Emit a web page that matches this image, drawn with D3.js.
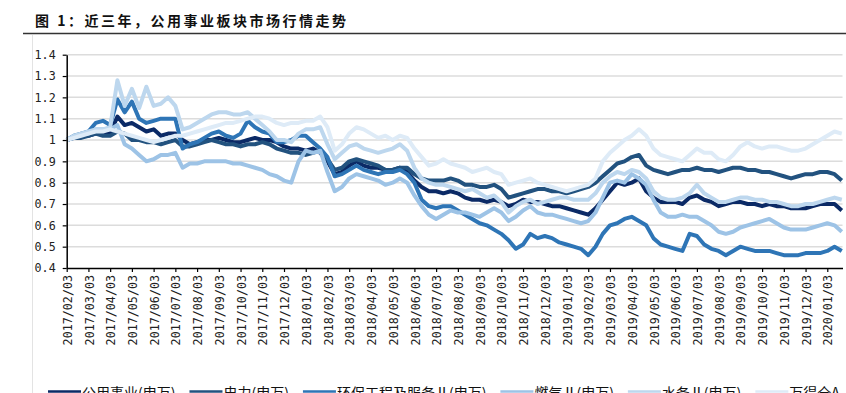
<!DOCTYPE html>
<html>
<head>
<meta charset="utf-8">
<script src="https://cdn.jsdelivr.net/npm/d3@7"></script>
<style>
  body { margin: 0; background: #fff; }
  svg { display: block; }
</style>
</head>
<body>
<script>
// 横轴刻度（每月一个）
var tickLabels = [
  "2017/02/03","2017/03/03","2017/04/03","2017/05/03","2017/06/03","2017/07/03",
  "2017/08/03","2017/09/03","2017/10/03","2017/11/03","2017/12/03","2018/01/03",
  "2018/02/03","2018/03/03","2018/04/03","2018/05/03","2018/06/03","2018/07/03",
  "2018/08/03","2018/09/03","2018/10/03","2018/11/03","2018/12/03","2019/01/03",
  "2019/02/03","2019/03/03","2019/04/03","2019/05/03","2019/06/03","2019/07/03",
  "2019/08/03","2019/09/03","2019/10/03","2019/11/03","2019/12/03","2020/01/03"
];
var yTicks = [0.4, 0.5, 0.6, 0.7, 0.8, 0.9, 1.0, 1.1, 1.2, 1.3, 1.4];
var yTickLabels = ["0.4","0.5","0.6","0.7","0.8","0.9","1","1.1","1.2","1.3","1.4"];
var seriesNames = ["公用事业(申万)", "电力(申万)", "环保工程及服务Ⅱ(申万)", "燃气Ⅱ(申万)", "水务Ⅱ(申万)", "万得全A"];

// 每 1/3 个月一个点，从 2017/02/03 开始
var gysy = [
  1.00,1.01,1.02,1.02,1.03,1.03,1.03,1.11,1.07,1.08,1.06,1.04,
  1.05,1.02,1.03,1.03,1.00,0.98,0.99,1.00,1.00,1.01,1.00,0.99,
  0.99,1.00,1.01,1.00,1.00,0.99,0.97,0.96,0.96,0.95,0.96,0.94,
  0.90,0.84,0.85,0.88,0.90,0.88,0.87,0.87,0.86,0.86,0.87,0.85,
  0.81,0.78,0.76,0.76,0.75,0.76,0.75,0.73,0.72,0.72,0.71,0.72,
  0.71,0.69,0.70,0.72,0.71,0.71,0.70,0.69,0.69,0.68,0.67,0.66,
  0.65,0.68,0.72,0.76,0.80,0.79,0.80,0.82,0.76,0.73,0.71,0.71,
  0.71,0.70,0.73,0.74,0.72,0.71,0.69,0.70,0.71,0.71,0.70,0.70,
  0.69,0.70,0.69,0.69,0.68,0.68,0.68,0.69,0.70,0.70,0.70,0.67
];
var dianli = [
  1.00,1.01,1.01,1.02,1.03,1.02,1.02,1.04,1.03,1.00,1.00,0.99,
  0.99,0.98,0.99,1.00,0.97,0.97,0.98,0.99,1.00,0.99,0.98,0.98,
  0.97,0.98,0.98,0.99,0.98,0.96,0.95,0.94,0.94,0.93,0.94,0.95,
  0.91,0.86,0.87,0.90,0.91,0.90,0.89,0.88,0.86,0.86,0.87,0.87,
  0.84,0.82,0.81,0.81,0.81,0.82,0.81,0.79,0.79,0.78,0.78,0.79,
  0.77,0.73,0.74,0.75,0.76,0.77,0.77,0.76,0.76,0.75,0.76,0.77,
  0.78,0.80,0.83,0.86,0.89,0.90,0.92,0.93,0.88,0.86,0.85,0.84,
  0.85,0.86,0.86,0.87,0.86,0.86,0.85,0.86,0.87,0.87,0.86,0.86,
  0.85,0.85,0.84,0.83,0.82,0.83,0.84,0.84,0.85,0.85,0.84,0.81
];
var huanbao = [
  1.00,1.02,1.03,1.04,1.08,1.09,1.07,1.19,1.13,1.18,1.10,1.08,
  1.09,1.10,1.10,1.10,0.96,0.98,0.99,1.01,1.03,1.04,1.02,1.01,
  1.03,1.09,1.06,1.04,1.03,0.99,0.99,1.00,1.02,1.02,0.99,0.96,
  0.92,0.83,0.84,0.86,0.88,0.86,0.85,0.84,0.85,0.85,0.86,0.84,
  0.80,0.72,0.69,0.68,0.69,0.69,0.67,0.65,0.63,0.61,0.60,0.58,
  0.56,0.53,0.49,0.51,0.56,0.54,0.55,0.54,0.52,0.51,0.50,0.49,
  0.46,0.50,0.56,0.60,0.61,0.63,0.64,0.62,0.60,0.54,0.51,0.50,
  0.49,0.48,0.56,0.55,0.51,0.49,0.48,0.46,0.48,0.50,0.49,0.48,
  0.48,0.48,0.47,0.46,0.46,0.46,0.47,0.47,0.47,0.48,0.50,0.48
];
var ranqi = [
  1.00,1.01,1.03,1.03,1.05,1.05,1.05,1.07,0.98,0.96,0.93,0.90,
  0.91,0.93,0.93,0.94,0.87,0.89,0.89,0.90,0.90,0.90,0.90,0.89,
  0.89,0.88,0.87,0.86,0.84,0.83,0.81,0.80,0.90,0.95,0.94,0.95,
  0.85,0.76,0.78,0.82,0.84,0.83,0.82,0.81,0.79,0.80,0.82,0.80,
  0.74,0.69,0.65,0.63,0.65,0.67,0.66,0.66,0.65,0.64,0.66,0.68,
  0.66,0.62,0.64,0.67,0.69,0.66,0.65,0.65,0.64,0.63,0.62,0.61,
  0.62,0.66,0.73,0.80,0.81,0.80,0.84,0.82,0.79,0.72,0.66,0.64,
  0.64,0.65,0.64,0.64,0.62,0.60,0.57,0.56,0.57,0.59,0.60,0.61,
  0.62,0.63,0.61,0.59,0.58,0.58,0.58,0.59,0.60,0.61,0.60,0.57
];
var shuiwu = [
  1.00,1.02,1.03,1.04,1.05,1.05,1.06,1.28,1.16,1.24,1.15,1.25,
  1.16,1.17,1.20,1.16,1.05,1.06,1.08,1.10,1.12,1.13,1.13,1.12,
  1.12,1.13,1.10,1.07,1.04,1.00,1.00,0.99,1.03,1.05,1.05,1.06,
  0.98,0.91,0.94,0.97,0.98,0.96,0.95,0.94,0.95,0.96,0.98,0.95,
  0.87,0.82,0.80,0.79,0.79,0.78,0.77,0.76,0.77,0.75,0.73,0.74,
  0.71,0.66,0.69,0.71,0.72,0.70,0.71,0.72,0.73,0.73,0.72,0.72,
  0.72,0.75,0.80,0.83,0.85,0.84,0.86,0.85,0.82,0.76,0.73,0.72,
  0.72,0.73,0.75,0.79,0.75,0.73,0.71,0.71,0.72,0.73,0.73,0.72,
  0.72,0.71,0.71,0.70,0.69,0.69,0.70,0.70,0.71,0.72,0.73,0.72
];
var wdqa = [
  1.00,1.01,1.02,1.03,1.04,1.04,1.05,1.04,1.03,1.02,1.01,1.00,
  0.99,1.00,1.01,1.02,1.02,1.03,1.04,1.05,1.06,1.07,1.08,1.08,
  1.09,1.10,1.11,1.11,1.10,1.08,1.07,1.08,1.08,1.09,1.09,1.11,
  1.06,0.95,0.98,1.03,1.06,1.05,1.03,1.01,1.02,1.00,1.02,1.01,
  0.96,0.92,0.88,0.89,0.91,0.89,0.88,0.87,0.85,0.86,0.87,0.85,
  0.84,0.79,0.80,0.81,0.82,0.80,0.79,0.78,0.77,0.76,0.77,0.78,
  0.79,0.82,0.90,0.94,0.97,1.00,1.02,1.05,1.02,0.96,0.93,0.92,
  0.91,0.90,0.93,0.96,0.94,0.94,0.91,0.90,0.93,0.97,0.99,0.97,
  0.96,0.97,0.97,0.96,0.95,0.95,0.96,0.98,1.00,1.02,1.04,1.03
];

var allSeries = [gysy, dianli, huanbao, ranqi, shuiwu, wdqa];
var colors = ["#0b2a66", "#22527f", "#2e75b6", "#9dc3e6", "#bdd7ee", "#deebf7"];

var W = 846, H = 393;
var svg = d3.select("body").append("svg")
  .attr("width", W)
  .attr("height", H);

// 标题
svg.append("text")
  .attr("x", 35)
  .attr("y", 26)
  .style("font-family", "'Noto Sans CJK SC', sans-serif")
  .style("font-weight", "700")
  .style("font-size", "14px")
  .style("letter-spacing", "2.5px")
  .style("fill", "#111")
  .text("图 1：近三年，公用事业板块市场行情走势");

svg.append("line")
  .attr("x1", 23).attr("x2", W)
  .attr("y1", 33.5).attr("y2", 33.5)
  .attr("stroke", "#333")
  .attr("stroke-width", 1.5);

svg.append("line")
  .attr("x1", 32.5).attr("x2", 32.5)
  .attr("y1", 35).attr("y2", H)
  .attr("stroke", "#e3e3e3")
  .attr("stroke-width", 1);

// 比例尺
var x = d3.scaleLinear().domain([0, 35.7]).range([66.7, 842.5]);
var y = d3.scaleLinear().domain([0.4, 1.4]).range([268, 54.7]);

// 网格线
svg.append("g")
  .selectAll("line")
  .data(yTicks.slice(1))
  .enter()
  .append("line")
  .attr("x1", x.range()[0])
  .attr("x2", x.range()[1])
  .attr("y1", function (d) { return y(d); })
  .attr("y2", function (d) { return y(d); })
  .attr("stroke", "#dcdcdc")
  .attr("stroke-width", 1.5);

// 折线
var line = d3.line()
  .x(function (d, i) { return x(i / 3); })
  .y(function (d) { return y(d); });

svg.append("g")
  .selectAll("path")
  .data(allSeries)
  .enter()
  .append("path")
  .attr("d", line)
  .attr("fill", "none")
  .attr("stroke", function (d, i) { return colors[i]; })
  .attr("stroke-width", 4)
  .attr("stroke-linejoin", "round");

// y 轴
var yAxis = d3.axisLeft(y)
  .tickValues(yTicks)
  .tickFormat(function (d, i) { return yTickLabels[i]; })
  .tickSize(4)
  .tickSizeOuter(0)
  .tickPadding(7);
var gy = svg.append("g")
  .attr("transform", "translate(" + x.range()[0] + ",0)")
  .call(yAxis);

// x 轴
var xAxis = d3.axisBottom(x)
  .tickValues(d3.range(tickLabels.length))
  .tickFormat(function (d, i) { return tickLabels[i]; })
  .tickSize(4)
  .tickSizeOuter(0);
var gx = svg.append("g")
  .attr("transform", "translate(0," + y.range()[0] + ")")
  .call(xAxis);
gx.selectAll("text")
  .attr("transform", "rotate(-90)")
  .attr("text-anchor", "end")
  .attr("x", -7)
  .attr("y", 0.5)
  .attr("dy", "0.35em");

[gx, gy].forEach(function (g) {
  g.selectAll("text")
    .style("font-family", "'DejaVu Sans Mono', monospace")
    .style("font-size", "11.7px")
    .style("fill", "#222");
  g.select(".domain").attr("stroke", "#000").attr("stroke-width", 1.5);
  g.selectAll(".tick line").attr("stroke", "#000").attr("stroke-width", 1.2);
});

// 图例
var legend = svg.append("g");
var lx = 48;
seriesNames.forEach(function (name, i) {
  legend.append("line")
    .attr("x1", lx).attr("x2", lx + 33)
    .attr("y1", 391.5).attr("y2", 391.5)
    .attr("stroke", colors[i])
    .attr("stroke-width", 2.5);
  var t = legend.append("text")
    .attr("x", lx + 34)
    .attr("y", 398)
    .style("font-family", "'Noto Sans CJK SC', sans-serif")
    .style("font-size", "14px")
    .style("fill", "#111")
    .text(name);
  lx += 34 + t.node().getComputedTextLength() + 14;
});
</script>
</body>
</html>
